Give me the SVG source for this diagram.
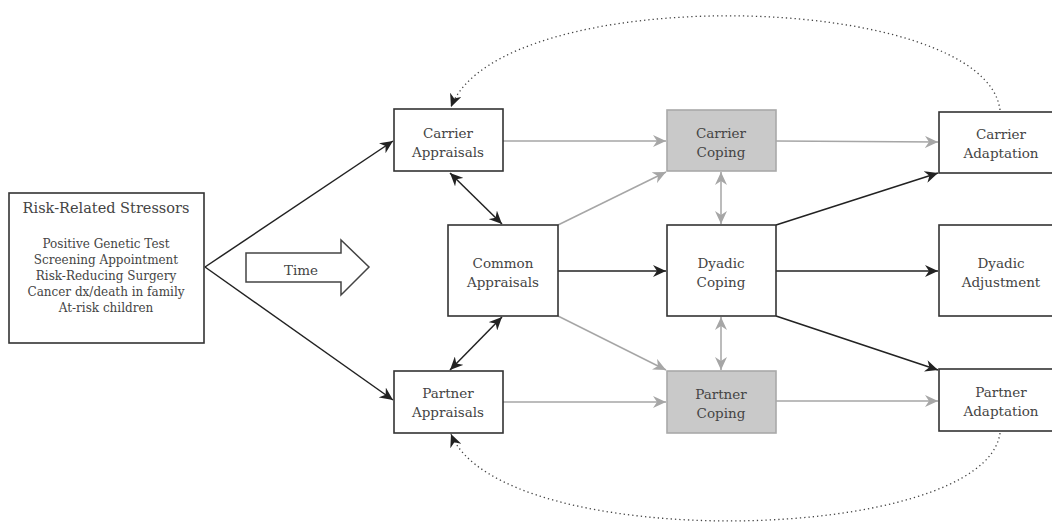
<svg xmlns="http://www.w3.org/2000/svg" width="1052" height="529" viewBox="0 0 1052 529">
<style>
.box{fill:#fff;stroke:#333;stroke-width:1.6}
.gbox{fill:#c9c9c9;stroke:#a9a9a9;stroke-width:1.6}
.lbl{font-family:"DejaVu Serif","Liberation Serif",serif;font-size:13.5px;fill:#444;text-anchor:middle}
.small{font-size:12px}
.title{font-size:14.5px}
.blk{stroke:#222;stroke-width:1.5;fill:none}
.gry{stroke:#a6a6a6;stroke-width:1.5;fill:none}
.dot{stroke:#444;stroke-width:1.3;fill:none;stroke-dasharray:1.3 3}
</style>
<defs>
<marker id="ab" markerUnits="userSpaceOnUse" markerWidth="14" markerHeight="12" viewBox="0 0 14 12" refX="13" refY="6" orient="auto-start-reverse">
<path d="M0,0 L13,6 L0,12 L4,6 z" fill="#222"/>
</marker>
<marker id="ag" markerUnits="userSpaceOnUse" markerWidth="14" markerHeight="12" viewBox="0 0 14 12" refX="13" refY="6" orient="auto-start-reverse">
<path d="M0,0 L13,6 L0,12 L4,6 z" fill="#a6a6a6"/>
</marker>
</defs>

<g id="connectors">
<line class="blk" x1="205" y1="267" x2="393" y2="141" marker-end="url(#ab)"/>
<line class="blk" x1="205" y1="267" x2="393" y2="400" marker-end="url(#ab)"/>
<line class="blk" x1="450" y1="173" x2="502" y2="224" marker-start="url(#ab)" marker-end="url(#ab)"/>
<line class="blk" x1="450" y1="370" x2="502" y2="317" marker-start="url(#ab)" marker-end="url(#ab)"/>
<line class="blk" x1="558" y1="271" x2="666" y2="271" marker-end="url(#ab)"/>
<line class="gry" x1="503" y1="141" x2="666" y2="141" marker-end="url(#ag)"/>
<line class="gry" x1="558" y1="225" x2="666" y2="172" marker-end="url(#ag)"/>
<line class="gry" x1="558" y1="316" x2="666" y2="370" marker-end="url(#ag)"/>
<line class="gry" x1="503" y1="402" x2="666" y2="402" marker-end="url(#ag)"/>
<line class="gry" x1="721" y1="172" x2="721" y2="224" marker-start="url(#ag)" marker-end="url(#ag)"/>
<line class="gry" x1="721" y1="317" x2="721" y2="370" marker-start="url(#ag)" marker-end="url(#ag)"/>
<line class="gry" x1="776" y1="141" x2="938" y2="142" marker-end="url(#ag)"/>
<line class="blk" x1="776" y1="225" x2="938" y2="173" marker-end="url(#ab)"/>
<line class="blk" x1="776" y1="271" x2="938" y2="271" marker-end="url(#ab)"/>
<line class="blk" x1="776" y1="316" x2="938" y2="370" marker-end="url(#ab)"/>
<line class="gry" x1="776" y1="401" x2="938" y2="401" marker-end="url(#ag)"/>
<path class="dot" d="M1000,110 C985,-10 500,-20 451,107" marker-end="url(#ab)"/>
<path class="dot" d="M1000,433 C985,545 500,555 451,434" marker-end="url(#ab)"/>
</g>

<g id="stressors">
<rect class="box" x="9" y="193" width="195" height="150"/>
<text class="lbl title" x="106" y="213">Risk-Related Stressors</text>
<text class="lbl small" x="106" y="248">Positive Genetic Test</text>
<text class="lbl small" x="106" y="264">Screening Appointment</text>
<text class="lbl small" x="106" y="280">Risk-Reducing Surgery</text>
<text class="lbl small" x="106" y="296">Cancer dx/death in family</text>
<text class="lbl small" x="106" y="312">At-risk children</text>
</g>

<g id="time">
<polygon points="246,253 341,253 341,240 369,267 341,295 341,282 246,282" fill="#fff" stroke="#444" stroke-width="1.5"/>
<text class="lbl" x="301" y="275">Time</text>
</g>

<g id="carrier-appraisals">
<rect class="box" x="394" y="109" width="109" height="62"/>
<text class="lbl" x="448" y="138">Carrier</text>
<text class="lbl" x="448" y="157">Appraisals</text>
</g>

<g id="common-appraisals">
<rect class="box" x="448" y="225" width="110" height="91"/>
<text class="lbl" x="503" y="268">Common</text>
<text class="lbl" x="503" y="287">Appraisals</text>
</g>

<g id="partner-appraisals">
<rect class="box" x="394" y="371" width="109" height="62"/>
<text class="lbl" x="448" y="398">Partner</text>
<text class="lbl" x="448" y="417">Appraisals</text>
</g>

<g id="carrier-coping">
<rect class="gbox" x="667" y="110" width="109" height="61"/>
<text class="lbl" x="721" y="138">Carrier</text>
<text class="lbl" x="721" y="157">Coping</text>
</g>

<g id="dyadic-coping">
<rect class="box" x="667" y="225" width="109" height="91"/>
<text class="lbl" x="721" y="268">Dyadic</text>
<text class="lbl" x="721" y="287">Coping</text>
</g>

<g id="partner-coping">
<rect class="gbox" x="667" y="371" width="109" height="62"/>
<text class="lbl" x="721" y="399">Partner</text>
<text class="lbl" x="721" y="418">Coping</text>
</g>

<g id="carrier-adaptation">
<rect class="box" x="939" y="112" width="124" height="61"/>
<text class="lbl" x="1001" y="139">Carrier</text>
<text class="lbl" x="1001" y="158">Adaptation</text>
</g>

<g id="dyadic-adjustment">
<rect class="box" x="939" y="225" width="124" height="91"/>
<text class="lbl" x="1001" y="268">Dyadic</text>
<text class="lbl" x="1001" y="287">Adjustment</text>
</g>

<g id="partner-adaptation">
<rect class="box" x="939" y="369" width="124" height="62"/>
<text class="lbl" x="1001" y="397">Partner</text>
<text class="lbl" x="1001" y="416">Adaptation</text>
</g>
</svg>
